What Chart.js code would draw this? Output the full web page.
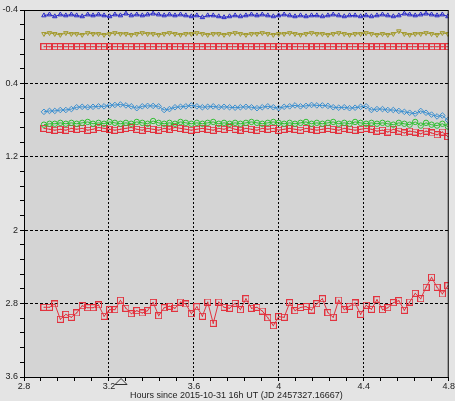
<!DOCTYPE html>
<html>
<head>
<meta charset="utf-8">
<script src="https://cdn.jsdelivr.net/npm/chart.js@4/dist/chart.umd.min.js"></script>
<style>
  html, body { margin: 0; padding: 0; background: #e4e4e4; }
  #wrap { width: 455px; height: 401px; position: relative; }
</style>
</head>
<body>
<div id="wrap"><canvas id="lc"></canvas></div>
<script>
// Time axis (hours since 2015-10-31 16h UT)
const hours = [
  2.894, 2.920, 2.945, 2.971, 2.997, 3.023, 3.048, 3.074, 3.100, 3.125,
  3.151, 3.177, 3.203, 3.228, 3.254, 3.280, 3.305, 3.331, 3.357, 3.382,
  3.408, 3.434, 3.460, 3.485, 3.511, 3.537, 3.562, 3.588, 3.614, 3.640,
  3.665, 3.691, 3.717, 3.742, 3.768, 3.794, 3.819, 3.845, 3.871, 3.897,
  3.922, 3.948, 3.974, 3.999, 4.025, 4.051, 4.076, 4.102, 4.128, 4.154,
  4.179, 4.205, 4.231, 4.256, 4.282, 4.308, 4.333, 4.359, 4.385, 4.411,
  4.436, 4.462, 4.488, 4.513, 4.539, 4.565, 4.591, 4.616, 4.642, 4.668,
  4.693, 4.719, 4.745, 4.770, 4.796
];

// magnitudes, one list per star
const checkBlue = [
  -0.34, -0.35, -0.33, -0.35, -0.34, -0.35, -0.34, -0.33, -0.35, -0.34,
  -0.35, -0.34, -0.33, -0.35, -0.34, -0.36, -0.34, -0.35, -0.34, -0.35,
  -0.36, -0.35, -0.34, -0.35, -0.34, -0.35, -0.34, -0.33, -0.34, -0.32,
  -0.34, -0.34, -0.33, -0.32, -0.33, -0.34, -0.33, -0.34, -0.35, -0.34,
  -0.35, -0.34, -0.33, -0.34, -0.35, -0.34, -0.33, -0.34, -0.33, -0.34,
  -0.34, -0.33, -0.34, -0.35, -0.34, -0.33, -0.34, -0.34, -0.33, -0.34,
  -0.33, -0.34, -0.35, -0.34, -0.33, -0.34, -0.36, -0.35, -0.34, -0.35,
  -0.36, -0.35, -0.34, -0.35, -0.33
];
const checkOlive = [
  -0.14, -0.15, -0.14, -0.13, -0.15, -0.14, -0.14, -0.13, -0.15, -0.14,
  -0.14, -0.13, -0.14, -0.15, -0.14, -0.14, -0.13, -0.14, -0.15, -0.14,
  -0.14, -0.13, -0.14, -0.15, -0.14, -0.13, -0.14, -0.14, -0.15, -0.14,
  -0.13, -0.14, -0.14, -0.13, -0.14, -0.15, -0.14, -0.13, -0.14, -0.14,
  -0.15, -0.14, -0.13, -0.14, -0.14, -0.15, -0.14, -0.13, -0.14, -0.15,
  -0.14, -0.14, -0.13, -0.14, -0.15, -0.14, -0.13, -0.14, -0.14, -0.15,
  -0.14, -0.13, -0.14, -0.13, -0.14, -0.17, -0.14, -0.13, -0.14, -0.14,
  -0.15, -0.14, -0.13, -0.15, -0.14
];
const compRed = [
  0, 0, 0, 0, 0, 0, 0, 0, 0, 0, 0, 0, 0, 0, 0, 0, 0, 0, 0, 0, 0, 0, 0, 0, 0,
  0, 0, 0, 0, 0, 0, 0, 0, 0, 0, 0, 0, 0, 0, 0, 0, 0, 0, 0, 0, 0, 0, 0, 0, 0,
  0, 0, 0, 0, 0, 0, 0, 0, 0, 0, 0, 0, 0, 0, 0, 0, 0, 0, 0, 0, 0, 0, 0, 0, 0
];
const checkCyan = [
  0.71, 0.70, 0.70, 0.69, 0.69, 0.68, 0.66, 0.655, 0.66, 0.655,
  0.65, 0.65, 0.64, 0.635, 0.63, 0.64, 0.65, 0.67, 0.65, 0.645,
  0.645, 0.65, 0.69, 0.68, 0.66, 0.655, 0.65, 0.64, 0.65, 0.66,
  0.655, 0.65, 0.66, 0.655, 0.66, 0.665, 0.66, 0.655, 0.66, 0.67,
  0.66, 0.65, 0.66, 0.67, 0.655, 0.65, 0.64, 0.65, 0.645, 0.635,
  0.64, 0.64, 0.645, 0.66, 0.665, 0.66, 0.67, 0.665, 0.655, 0.65,
  0.69, 0.68, 0.68, 0.69, 0.69, 0.70, 0.71, 0.72, 0.73, 0.70,
  0.72, 0.74, 0.76, 0.75, 0.80
];
const checkGreen = [
  0.85, 0.84, 0.84, 0.83, 0.84, 0.83, 0.84, 0.83, 0.82, 0.84,
  0.83, 0.84, 0.82, 0.83, 0.84, 0.83, 0.84, 0.82, 0.83, 0.84,
  0.81, 0.83, 0.84, 0.83, 0.84, 0.82, 0.83, 0.84, 0.83, 0.84,
  0.83, 0.82, 0.84, 0.83, 0.84, 0.83, 0.84, 0.83, 0.82, 0.83,
  0.84, 0.83, 0.82, 0.83, 0.84, 0.83, 0.84, 0.83, 0.82, 0.84,
  0.83, 0.84, 0.83, 0.82, 0.84, 0.83, 0.84, 0.82, 0.83, 0.84,
  0.83, 0.84, 0.83, 0.84, 0.85, 0.83, 0.84, 0.85, 0.82, 0.86,
  0.83, 0.85, 0.86, 0.84, 0.87
];
const checkRed = [
  0.89, 0.90, 0.91, 0.90, 0.91, 0.89, 0.90, 0.89, 0.91, 0.90,
  0.88, 0.89, 0.90, 0.91, 0.90, 0.89, 0.88, 0.90, 0.91, 0.89,
  0.90, 0.91, 0.89, 0.90, 0.88, 0.89, 0.90, 0.91, 0.90, 0.89,
  0.90, 0.91, 0.89, 0.90, 0.88, 0.90, 0.91, 0.89, 0.90, 0.91,
  0.89, 0.90, 0.89, 0.91, 0.90, 0.89, 0.90, 0.91, 0.89, 0.90,
  0.91, 0.90, 0.89, 0.90, 0.91, 0.89, 0.90, 0.91, 0.90, 0.89,
  0.90, 0.92, 0.91, 0.93, 0.90, 0.92, 0.94, 0.92, 0.93, 0.95,
  0.92, 0.94, 0.96, 0.93, 0.98
];
const target = [
  2.840, 2.840, 2.804, 2.971, 2.917, 2.949, 2.902, 2.823, 2.845, 2.845,
  2.815, 2.938, 2.866, 2.866, 2.764, 2.851, 2.910, 2.877, 2.902, 2.877,
  2.786, 2.932, 2.845, 2.829, 2.851, 2.783, 2.804, 2.910, 2.834, 2.938,
  2.783, 3.015, 2.783, 2.840, 2.851, 2.797, 2.866, 2.747, 2.851, 2.840,
  2.881, 2.954, 3.041, 2.943, 2.949, 2.790, 2.877, 2.842, 2.832, 2.870,
  2.801, 2.747, 2.899, 2.949, 2.761, 2.866, 2.829, 2.793, 2.917, 2.818,
  2.862, 2.757, 2.866, 2.845, 2.790, 2.768, 2.873, 2.783, 2.688, 2.747,
  2.622, 2.513, 2.622, 2.695, 2.605
];

const xLabels = [2.8, 3.2, 3.6, 4, 4.4, 4.8];
const yLabels = [-0.4, 0.4, 1.2, 2, 2.8, 3.6];
const markerHour = 3.257;

const isMajor = (v, list) => list.some(m => Math.abs(m - v) < 1e-6);
const pts = arr => arr.map((y, i) => ({ x: hours[i], y: y }));

// open square with a dot in the middle
function dotSquare(color) {
  const c = document.createElement('canvas');
  c.width = 7; c.height = 7;
  const g = c.getContext('2d');
  g.strokeStyle = color;
  g.lineWidth = 1;
  g.strokeRect(0.5, 0.5, 6, 6);
  g.fillStyle = color;
  g.fillRect(3, 3, 1, 1);
  return c;
}

function series(data, color, style, radius, rotation) {
  return {
    data: pts(data),
    borderColor: color,
    backgroundColor: 'rgba(0,0,0,0)',
    pointBorderColor: color,
    pointStyle: style,
    pointRadius: radius,
    pointRotation: rotation || 0,
    pointBorderWidth: 1,
    borderWidth: 1,
    tension: 0
  };
}

const framePlugin = {
  id: 'frame',
  beforeDraw(chart) {
    const a = chart.chartArea, ctx = chart.ctx;
    ctx.save();
    ctx.fillStyle = '#d4d4d4';
    ctx.fillRect(a.left, a.top, a.right - a.left, a.bottom - a.top);
    ctx.restore();
  },
  afterDraw(chart) {
    const a = chart.chartArea, ctx = chart.ctx;
    ctx.save();
    ctx.strokeStyle = '#000';
    ctx.lineWidth = 1;
    ctx.strokeRect(a.left + 0.5, a.top + 0.5, a.right - a.left - 1, a.bottom - a.top);
    // little open triangle under the time axis
    const mx = chart.scales.x.getPixelForValue(markerHour);
    ctx.strokeStyle = '#333';
    ctx.beginPath();
    ctx.moveTo(mx, a.bottom + 1.5);
    ctx.lineTo(mx - 6, a.bottom + 7.5);
    ctx.lineTo(mx + 6, a.bottom + 7.5);
    ctx.closePath();
    ctx.stroke();
    ctx.restore();
  }
};

const tickFont = { family: 'Liberation Sans, Arial, sans-serif', size: 9 };
const red = '#e2323e';

new Chart(document.getElementById('lc'), {
  type: 'line',
  data: {
    datasets: [
      series(checkBlue, '#2828c8', 'triangle', 2.6),
      series(checkOlive, '#a39a2c', 'triangle', 2.6, 180),
      series(compRed, red, dotSquare(red), 3.5),
      series(checkCyan, '#3a8fd0', 'rectRot', 2.8),
      series(checkGreen, '#2fbf30', 'circle', 2.7),
      series(checkRed, red, dotSquare(red), 3.5),
      series(target, red, dotSquare(red), 3.5)
    ]
  },
  options: {
    responsive: true,
    maintainAspectRatio: false,
    animation: false,
    layout: { padding: { top: 10, right: 6, left: 0, bottom: 0 } },
    plugins: { legend: { display: false }, tooltip: { enabled: false } },
    scales: {
      x: {
        type: 'linear',
        min: 2.8,
        max: 4.8,
        afterFit: s => { s.height = 24; },
        ticks: {
          stepSize: 0.08,
          maxTicksLimit: 100,
          autoSkip: false,
          maxRotation: 0,
          padding: 0,
          color: '#222',
          font: tickFont,
          callback: v => isMajor(v, xLabels) ? String(parseFloat(v.toFixed(2))) : ''
        },
        grid: {
          color: c => (c.tick && isMajor(c.tick.value, xLabels) && c.tick.value > 2.81 && c.tick.value < 4.79) ? '#000' : 'rgba(0,0,0,0)',
          lineWidth: 1,
          tickColor: '#000',
          tickLength: 4
        },
        border: { display: true, color: '#000', dash: [2, 2] },
        title: {
          display: true,
          text: 'Hours since 2015-10-31 16h UT (JD 2457327.16667)',
          color: '#222',
          font: tickFont,
          padding: 0
        }
      },
      y: {
        type: 'linear',
        reverse: true,
        min: -0.4,
        max: 3.6,
        afterFit: s => { s.width = 24; },
        ticks: {
          stepSize: 0.16,
          maxTicksLimit: 100,
          autoSkip: false,
          padding: 2,
          color: '#222',
          font: tickFont,
          callback: v => isMajor(v, yLabels) ? String(parseFloat(v.toFixed(2))) : ''
        },
        grid: {
          color: c => (c.tick && isMajor(c.tick.value, yLabels) && c.tick.value > -0.39 && c.tick.value < 3.59) ? '#000' : 'rgba(0,0,0,0)',
          lineWidth: 1,
          tickColor: '#000',
          tickLength: 4
        },
        border: { display: true, color: '#000', dash: [3, 2] }
      }
    }
  },
  plugins: [framePlugin]
});
</script>
</body>
</html>
